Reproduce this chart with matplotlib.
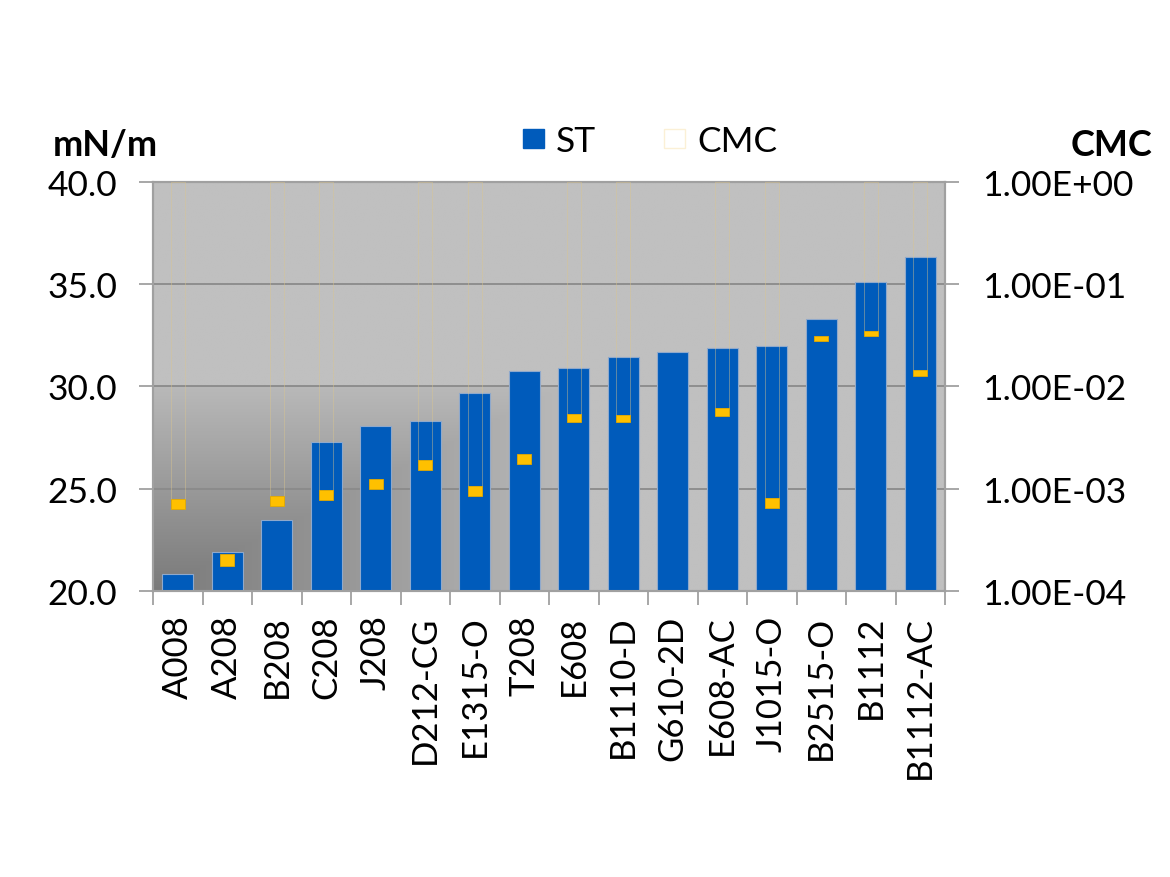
import numpy as np
import matplotlib
matplotlib.use("Agg")
import matplotlib.pyplot as plt
from matplotlib.patches import Patch, Rectangle
from matplotlib.ticker import FixedLocator, NullLocator

plt.rcParams['font.family'] = ['Lato', 'DejaVu Sans']

categories = ["A008", "A208", "B208", "C208", "J208", "D212-CG", "E1315-O", "T208",
              "E608", "B1110-D", "G610-2D", "E608-AC", "J1015-O", "B2515-O", "B1112", "B1112-AC"]
st_values = [20.85, 21.93, 23.46, 27.27, 28.08, 28.29, 29.66, 30.73,
             30.88, 31.41, 31.66, 31.85, 31.95, 33.27, 35.12, 36.34]
cmc_low = [6.30e-4, 1.76e-4, 6.71e-4, 7.74e-4, 9.91e-4, 1.53e-3, 8.41e-4, 1.75e-3,
           4.51e-3, 4.45e-3, np.nan, 5.16e-3, 6.41e-4, 2.79e-2, 3.13e-2, 1.26e-2]
cmc_high = [7.89e-4, 2.30e-4, 8.53e-4, 9.68e-4, 1.24e-3, 1.91e-3, 1.07e-3, 2.16e-3,
            5.40e-3, 5.24e-3, np.nan, 6.18e-3, 8.15e-4, 3.13e-2, 3.45e-2, 1.44e-2]
cmc_max = [1.0, np.nan, 1.0, 1.0, np.nan, 1.0, 1.0, np.nan,
           1.0, 1.0, np.nan, 1.0, 1.0, np.nan, 1.0, 1.0]
left_ticks = [20.0, 25.0, 30.0, 35.0, 40.0]
left_labels = ["20.0", "25.0", "30.0", "35.0", "40.0"]
right_ticks = [1e-4, 1e-3, 1e-2, 1e-1, 1e0]
right_labels = ["1.00E-04", "1.00E-03", "1.00E-02", "1.00E-01", "1.00E+00"]

W, H = 1170, 878
fig = plt.figure(figsize=(W / 100, H / 100), dpi=100)
ax = fig.add_axes([153 / W, 1 - 592 / H, (945 - 153) / W, (592 - 182.7) / H])
ax.patch.set_alpha(0)

# background gradient (dark from bottom-left corner)
n = 400
u = np.linspace(0, 1, n)[None, :]
v = np.linspace(1, 0, n)[:, None]
t = np.maximum(u / 0.52, v / 0.5)
g = np.where(t < 1, (0x7a + (0xb9 - 0x7a) * np.clip(t, 0, 1)) / 255, 0xc0 / 255)
img = np.dstack([g, g, g])
ax.imshow(img, extent=[0, 1, 0, 1], transform=ax.transAxes, aspect='auto',
          zorder=0, interpolation='bilinear')

x = np.arange(len(categories))
ax.bar(x, np.array(st_values) - 20, bottom=20, width=0.63, color='#005bbb',
       edgecolor='#8fa9cc', linewidth=0.8, zorder=3)

ax.set_xlim(-0.5, len(categories) - 0.5)
ax.set_ylim(20, 40)
ax.yaxis.set_major_locator(FixedLocator(left_ticks))
ax.set_yticklabels(left_labels)
ax.grid(axis='y', color='#8a8a8a', linewidth=1.3, zorder=1)
ax.set_axisbelow(True)

ax.set_xticks(x)
ax.set_xticklabels(categories, rotation=90)
ax.set_xticks(np.arange(-0.5, len(categories)), minor=True)
ax.tick_params(axis='x', which='major', length=0, pad=17, labelsize=25)
ax.tick_params(axis='x', which='minor', length=10, width=1.3, color='#a0a0a0')
ax.tick_params(axis='y', length=10, width=1.3, color='#a0a0a0', pad=16, labelsize=25.5)

for s in ax.spines.values():
    s.set_color('#a0a0a0')
    s.set_linewidth(1.5)

ax2 = ax.twinx()
ax2.set_yscale('log')
ax2.set_ylim(1e-4, 1)
ax2.yaxis.set_major_locator(FixedLocator(right_ticks))
ax2.yaxis.set_minor_locator(NullLocator())
ax2.set_yticklabels(right_labels)
ax2.tick_params(axis='y', length=10, width=1.3, color='#a0a0a0', pad=17, labelsize=25.5)
for s in ax2.spines.values():
    s.set_color('#a0a0a0')
    s.set_linewidth(1.5)

mw = 0.28
lo = np.array(cmc_low)
hi = np.array(cmc_high)
mx = np.array(cmc_max)
# thin lines from top down to the CMC box
for xi, h, m in zip(x, hi, mx):
    if np.isfinite(m) and np.isfinite(h):
        ax2.add_patch(Rectangle((xi - mw / 2, h), mw, m - h, facecolor='none',
                                edgecolor='#dcc68c', linewidth=0.5, alpha=0.6, zorder=4))
ax2.bar(x, hi - lo, bottom=lo, width=mw, color='#ffc000', edgecolor='#e3a900',
        linewidth=0.6, zorder=5)

fig.text(105 / W, 1 - 145 / H, "mN/m", fontsize=26, fontweight='bold',
         ha='center', va='center')
fig.text(1112 / W, 1 - 145 / H, "CMC", fontsize=26, fontweight='bold',
         ha='center', va='center')

handles = [Patch(facecolor='#005bbb', edgecolor='#005bbb'),
           Patch(facecolor='white', edgecolor='#fbf0d6')]
fig.legend(handles, ["ST", "CMC"], loc='center', bbox_to_anchor=(650 / W, 1 - 142 / H),
           ncol=2, frameon=False, fontsize=25.5, handlelength=0.6, handleheight=0.45,
           columnspacing=1.9, handletextpad=0.35)

fig.savefig("out.png", dpi=100)
